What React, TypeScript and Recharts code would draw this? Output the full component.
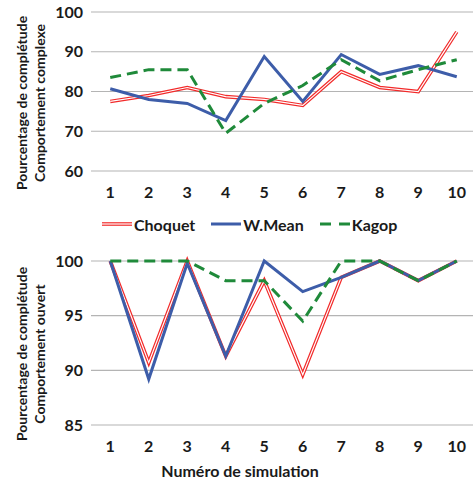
import { LineChart, Line, XAxis, YAxis, CartesianGrid, Label } from "recharts";

const simulations = [1, 2, 3, 4, 5, 6, 7, 8, 9, 10];

// top panel: comportement complexe
const complexChoquet = [77.5, 79, 81, 78.7, 78, 76.5, 85, 81, 80, 95];
const complexWMean = [80.7, 78, 77, 72.7, 88.8, 77.5, 89.3, 84.3, 86.5, 83.7];
const complexKagop = [83.5, 85.5, 85.5, 69.5, 77, 81.5, 88, 82.7, 85.5, 88];
const complexTicks = [60, 70, 80, 90, 100];

// bottom panel: comportement ouvert
const openChoquet = [100, 90.7, 100, 91.3, 98.2, 89.6, 98.5, 100, 98.2, 100];
const openWMean = [100, 89.2, 99.8, 91.3, 100, 97.2, 98.5, 100, 98.2, 100];
const openKagop = [100, 100, 100, 98.2, 98.2, 94.5, 100, 100, 98.2, 100];
const openTicks = [85, 90, 95, 100];

const RED = "#f22a2a";
const BLUE = "#3d5da9";
const GREEN = "#1f8a3a";
const GRID = "#b4b4b4";
const FONT = "Lato, 'Open Sans', sans-serif";

function buildRows(choquet: number[], wmean: number[], kagop: number[]) {
  return simulations.map((s, i) => ({
    sim: s,
    choquet: choquet[i],
    wmean: wmean[i],
    kagop: kagop[i],
  }));
}

const tickStyle = { fill: "#1a1a1a", fontSize: 16, fontWeight: 700, fontFamily: FONT };

const yTitle = (lines: string[], cy: number) => (props: any) => {
  const vb = props.viewBox || { x: 0 };
  const xs = [vb.x + 21, vb.x + 39];
  return (
    <g>
      {lines.map((t, i) => (
        <text
          key={i}
          x={xs[i]}
          y={cy}
          transform={`rotate(-90 ${xs[i]} ${cy})`}
          textAnchor="middle"
          dominantBaseline="central"
          fontFamily={FONT}
          fontWeight={700}
          fontSize={14}
          fill="#1a1a1a"
        >
          {t}
        </text>
      ))}
    </g>
  );
};

const xTitle = (props: any) => {
  const vb = props.viewBox || { y: 0 };
  return (
    <text
      x={240}
      y={vb.y + 52}
      textAnchor="middle"
      fontFamily={FONT}
      fontWeight={700}
      fontSize={16}
      fill="#1a1a1a"
    >
      Numéro de simulation
    </text>
  );
};

function Panel({
  rows,
  ticks,
  domain,
  xAxisHeight,
  height,
  titleLines,
  titleCy,
  showXTitle,
}: {
  rows: any[];
  ticks: number[];
  domain: [number, number];
  xAxisHeight: number;
  height: number;
  titleLines: string[];
  titleCy: number;
  showXTitle: boolean;
}) {
  return (
    <LineChart width={476} height={height} data={rows} margin={{ top: 12, right: 0, bottom: 0, left: 0 }}>
      <CartesianGrid vertical={false} stroke={GRID} strokeWidth={1.2} />
      <XAxis
        dataKey="sim"
        type="number"
        domain={[0.5, 10.5]}
        ticks={simulations}
        axisLine={false}
        tickLine={false}
        tickSize={0}
        tickMargin={16}
        height={xAxisHeight}
        tick={tickStyle}
      >
        {showXTitle && <Label content={xTitle} />}
      </XAxis>
      <YAxis
        type="number"
        domain={domain}
        ticks={ticks}
        width={91}
        axisLine={false}
        tickLine={false}
        tickSize={0}
        tickMargin={8}
        tick={tickStyle}
      >
        <Label content={yTitle(titleLines, titleCy)} />
      </YAxis>
      <Line dataKey="choquet" stroke={RED} strokeWidth={3.6} dot={false} isAnimationActive={false} />
      <Line dataKey="choquet" stroke="#ffffff" strokeWidth={1.2} dot={false} isAnimationActive={false} />
      <Line dataKey="wmean" stroke={BLUE} strokeWidth={3} dot={false} isAnimationActive={false} />
      <Line
        dataKey="kagop"
        stroke={GREEN}
        strokeWidth={3}
        strokeDasharray="11 6"
        dot={false}
        isAnimationActive={false}
      />
    </LineChart>
  );
}

function LegendItem({ name, kind }: { name: string; kind: "double" | "solid" | "dash" }) {
  return (
    <div style={{ display: "flex", alignItems: "center", marginRight: 16 }}>
      <svg width={30} height={10} style={{ marginRight: 2 }}>
        {kind === "double" && (
          <>
            <line x1={0} y1={5} x2={30} y2={5} stroke={RED} strokeWidth={3.6} />
            <line x1={0} y1={5} x2={30} y2={5} stroke="#fff" strokeWidth={1.2} />
          </>
        )}
        {kind === "solid" && <line x1={0} y1={5} x2={30} y2={5} stroke={BLUE} strokeWidth={3} />}
        {kind === "dash" && (
          <line x1={0} y1={5} x2={30} y2={5} stroke={GREEN} strokeWidth={3} strokeDasharray="11 8" />
        )}
      </svg>
      <span style={{ fontFamily: FONT, fontWeight: 700, fontSize: 16, color: "#1a1a1a" }}>{name}</span>
    </div>
  );
}

export default function App() {
  const complexRows = buildRows(complexChoquet, complexWMean, complexKagop);
  const openRows = buildRows(openChoquet, openWMean, openKagop);
  return (
    <div
      style={{
        position: "absolute",
        left: 0,
        top: 0,
        width: 473,
        height: 483,
        overflow: "hidden",
        background: "#fff",
      }}
    >
      <div style={{ position: "absolute", left: 0, top: 0 }}>
        <Panel
          rows={complexRows}
          ticks={complexTicks}
          domain={[60, 100]}
          xAxisHeight={30}
          height={201}
          titleLines={["Pourcentage de complétude", "Comportement complexe"]}
          titleCy={103}
          showXTitle={false}
        />
      </div>
      <div
        style={{
          position: "absolute",
          left: 102,
          top: 213,
          display: "flex",
          alignItems: "center",
          height: 22,
        }}
      >
        <LegendItem name="Choquet" kind="double" />
        <LegendItem name="W.Mean" kind="solid" />
        <LegendItem name="Kagop" kind="dash" />
      </div>
      <div style={{ position: "absolute", left: 0, top: 249 }}>
        <Panel
          rows={openRows}
          ticks={openTicks}
          domain={[85, 100]}
          xAxisHeight={58}
          height={234}
          titleLines={["Pourcentage de complétude", "Comportement ouvert"]}
          titleCy={105}
          showXTitle={true}
        />
      </div>
    </div>
  );
}
